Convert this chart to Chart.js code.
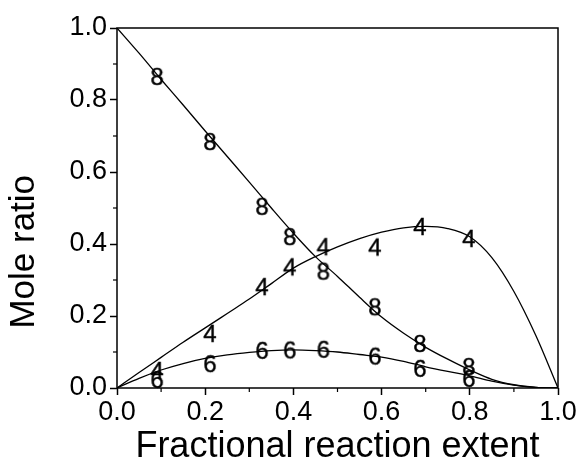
<!DOCTYPE html>
<html>
<head>
<meta charset="utf-8">
<script src="https://cdn.jsdelivr.net/npm/chart.js@4/dist/chart.umd.min.js"></script>
<style>
  html, body { margin: 0; padding: 0; background: #fff; }
  #wrap { width: 579px; height: 461px; }
</style>
</head>
<body>
<div id="wrap"><canvas id="chart" width="579" height="461"></canvas></div>
<script>
// measured points (digit markers)
const markerX = [0.091, 0.211, 0.329, 0.392, 0.468, 0.585, 0.687, 0.798];
const ratio8 = [0.867, 0.686, 0.506, 0.422, 0.326, 0.227, 0.125, 0.061];
const ratio4 = [0.050, 0.153, 0.283, 0.338, 0.394, 0.393, 0.450, 0.417];
const ratio6 = [0.025, 0.069, 0.106, 0.107, 0.109, 0.090, 0.056, 0.028];

// fitted curves
const curveX = [0, 0.05, 0.1, 0.15, 0.2, 0.25, 0.3, 0.35, 0.4, 0.45, 0.5,
                0.55, 0.6, 0.65, 0.7, 0.75, 0.8, 0.85, 0.9, 0.95, 1.0];
const curve8 = [1.0, 0.93, 0.857, 0.786, 0.714, 0.643, 0.572, 0.50, 0.43, 0.365, 0.31,
                0.252, 0.197, 0.152, 0.113, 0.08, 0.05, 0.024, 0.009, 0.002, 0];
const curve4 = [0, 0.043, 0.085, 0.127, 0.167, 0.207, 0.247, 0.29, 0.333, 0.365, 0.392,
                0.415, 0.433, 0.445, 0.449, 0.443, 0.42, 0.362, 0.268, 0.145, 0];
const curve6 = [0, 0.027, 0.05, 0.068, 0.082, 0.092, 0.099, 0.104, 0.106, 0.104, 0.1,
                0.093, 0.086, 0.074, 0.059, 0.046, 0.034, 0.019, 0.008, 0.002, 0];

const xTitle = 'Fractional reaction extent';
const yTitle = 'Mole ratio';

const FONT = '"Liberation Sans", Arial, sans-serif';

const digitMarker = (txt) => {
  const c = document.createElement('canvas');
  c.width = 22;
  c.height = 28;
  const g = c.getContext('2d');
  g.font = '24px ' + FONT;
  g.fillStyle = '#000';
  g.strokeStyle = '#000';
  g.lineWidth = 0.4;
  g.textAlign = 'center';
  g.textBaseline = 'alphabetic';
  const base = 14 + 24 * 0.358;
  g.fillText(txt, 11, base);
  g.strokeText(txt, 11, base);
  return c;
};

const pts = (xs, ys) => xs.map((x, i) => ({ x: x, y: ys[i] }));

const curveSet = (ys) => ({
  data: pts(curveX, ys),
  showLine: true,
  borderColor: '#000',
  borderWidth: 1.3,
  pointRadius: 0,
  cubicInterpolationMode: 'monotone',
  order: 2
});

const markerSet = (ys, digit) => ({
  data: pts(markerX, ys),
  showLine: false,
  pointStyle: digitMarker(digit),
  pointRadius: 11,
  clip: false,
  order: 1
});

// box round the plot and short minor ticks between the labelled ones
const frame = {
  id: 'frame',
  afterDraw(chart) {
    const { ctx, chartArea: a, scales } = chart;
    ctx.save();
    ctx.strokeStyle = '#000';
    ctx.lineWidth = 1.5;
    ctx.strokeRect(a.left, a.top, a.right - a.left, a.bottom - a.top);
    ctx.lineWidth = 1.2;
    const xt = scales.x.ticks;
    for (let i = 0; i < xt.length - 1; i++) {
      const px = scales.x.getPixelForValue((xt[i].value + xt[i + 1].value) / 2);
      ctx.beginPath();
      ctx.moveTo(px, a.bottom);
      ctx.lineTo(px, a.bottom + 4);
      ctx.stroke();
    }
    const yt = scales.y.ticks;
    for (let i = 0; i < yt.length - 1; i++) {
      const py = scales.y.getPixelForValue((yt[i].value + yt[i + 1].value) / 2);
      ctx.beginPath();
      ctx.moveTo(a.left, py);
      ctx.lineTo(a.left - 4, py);
      ctx.stroke();
    }
    ctx.restore();
  }
};

const axisGrid = {
  drawOnChartArea: false,
  drawTicks: true,
  tickLength: 7,
  tickColor: '#000',
  tickWidth: 1.5
};

new Chart(document.getElementById('chart'), {
  type: 'scatter',
  data: {
    datasets: [
      curveSet(curve8),
      curveSet(curve4),
      curveSet(curve6),
      markerSet(ratio8, '8'),
      markerSet(ratio4, '4'),
      markerSet(ratio6, '6')
    ]
  },
  options: {
    responsive: false,
    animation: false,
    layout: { padding: { left: 0, top: 28, right: 21, bottom: 0 } },
    plugins: {
      legend: { display: false },
      tooltip: { enabled: false }
    },
    scales: {
      x: {
        type: 'linear',
        min: 0,
        max: 1,
        grid: axisGrid,
        border: { display: false },
        ticks: {
          stepSize: 0.2,
          color: '#000',
          padding: 1,
          font: { family: FONT, size: 27 },
          callback: (v) => v.toFixed(1)
        },
        title: {
          display: true,
          text: xTitle,
          color: '#000',
          font: { family: FONT, size: 36, lineHeight: 0.76 },
          padding: 0
        },
        afterFit: (s) => { s.height = 73; }
      },
      y: {
        type: 'linear',
        min: 0,
        max: 1,
        grid: axisGrid,
        border: { display: false },
        ticks: {
          stepSize: 0.2,
          color: '#000',
          padding: 3,
          font: { family: FONT, size: 27 },
          callback: (v) => v.toFixed(1)
        },
        title: {
          display: true,
          text: yTitle + '\u00a0'.repeat(9),
          color: '#000',
          font: { family: FONT, size: 35, lineHeight: 1.2 },
          padding: { top: 3, bottom: 0 }
        },
        afterFit: (s) => { s.width = 117; }
      }
    }
  },
  plugins: [frame]
});
</script>
</body>
</html>
